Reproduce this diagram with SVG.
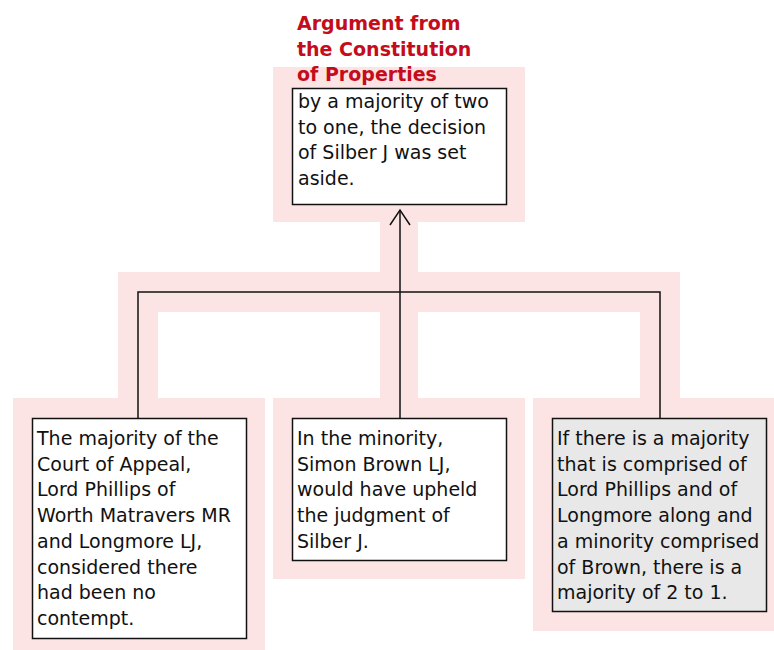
<svg xmlns="http://www.w3.org/2000/svg" width="774" height="650" viewBox="0 0 774 650">
  <style>
    .halo { fill: #fce4e4; }
    .box { fill: #ffffff; stroke: #111111; stroke-width: 1.5; }
    .box.shaded { fill: #e8e8e8; }
    .txt { font-family: "DejaVu Sans", Verdana, sans-serif; font-size: 19px; fill: #111111; }
    .title { font-family: "DejaVu Sans", Verdana, sans-serif; font-size: 19px; font-weight: bold; fill: #c40c1c; }
    .link { fill: none; stroke: #111111; stroke-width: 1.5; }
  </style>

  <rect width="774" height="650" fill="#ffffff"/>

  <!-- pink highlight bands behind the tree -->
  <g id="highlight">
    <rect class="halo" x="273" y="67" width="252" height="155"/>
    <rect class="halo" x="380" y="222" width="38" height="176"/>
    <rect class="halo" x="118" y="272" width="562" height="40"/>
    <rect class="halo" x="118" y="272" width="40" height="126"/>
    <rect class="halo" x="640" y="272" width="40" height="126"/>
    <rect class="halo" x="13" y="398" width="252" height="260"/>
    <rect class="halo" x="273" y="398" width="252" height="181"/>
    <rect class="halo" x="533" y="398" width="252" height="233"/>
  </g>

  <!-- connectors -->
  <g id="connectors">
    <path class="link" d="M138,418 V292 H660 V418"/>
    <path class="link" d="M400,418 V210"/>
    <path class="link" d="M390,225 L400,210 L410,225"/>
  </g>

  <g id="title">
    <text class="title" x="297" y="30">Argument from</text>
    <text class="title" x="297" y="55.5">the Constitution</text>
    <text class="title" x="297" y="81">of Properties</text>
  </g>

  <g id="conclusion">
    <rect class="box" x="292.5" y="88.5" width="214" height="116"/>
    <text class="txt" x="298" y="108">
      <tspan x="298" y="108">by a majority of two</tspan>
      <tspan x="298" y="133.7">to one, the decision</tspan>
      <tspan x="298" y="159.4">of Silber J was set</tspan>
      <tspan x="298" y="185.1">aside.</tspan>
    </text>
  </g>

  <g id="majority">
    <rect class="box" x="32.5" y="418.5" width="214" height="220"/>
    <text class="txt">
      <tspan x="37" y="445">The majority of the</tspan>
      <tspan x="37" y="470.7">Court of Appeal,</tspan>
      <tspan x="37" y="496.4">Lord Phillips of</tspan>
      <tspan x="37" y="522.1">Worth Matravers MR</tspan>
      <tspan x="37" y="547.8">and Longmore LJ,</tspan>
      <tspan x="37" y="573.5">considered there</tspan>
      <tspan x="37" y="599.2">had been no</tspan>
      <tspan x="37" y="624.9">contempt.</tspan>
    </text>
  </g>

  <g id="minority">
    <rect class="box" x="292.5" y="418.5" width="214" height="142"/>
    <text class="txt">
      <tspan x="297" y="445">In the minority,</tspan>
      <tspan x="297" y="470.7">Simon Brown LJ,</tspan>
      <tspan x="297" y="496.4">would have upheld</tspan>
      <tspan x="297" y="522.1">the judgment of</tspan>
      <tspan x="297" y="547.8">Silber J.</tspan>
    </text>
  </g>

  <g id="count">
    <rect class="box shaded" x="552.5" y="418.5" width="214" height="193"/>
    <text class="txt">
      <tspan x="557" y="445">If there is a majority</tspan>
      <tspan x="557" y="470.7">that is comprised of</tspan>
      <tspan x="557" y="496.4">Lord Phillips and of</tspan>
      <tspan x="557" y="522.1">Longmore along and</tspan>
      <tspan x="557" y="547.8">a minority comprised</tspan>
      <tspan x="557" y="573.5">of Brown, there is a</tspan>
      <tspan x="557" y="599.2">majority of 2 to 1.</tspan>
    </text>
  </g>
</svg>
